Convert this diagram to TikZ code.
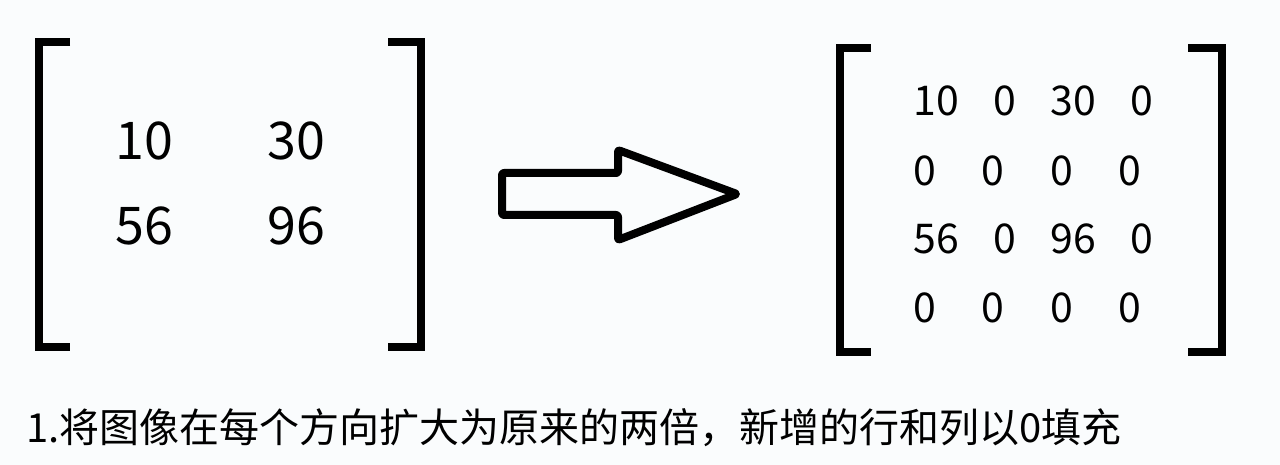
\documentclass[tikz,border=0pt]{standalone}
\usepackage{fontspec}
\setmainfont{Noto Sans CJK SC}
\usepackage{tikz}
\definecolor{paper}{RGB}{250,252,253}

\begin{document}
\begin{tikzpicture}[x=1pt, y=-1pt,
  brk/.style={line width=8pt, line join=miter},
  bigent/.style={font=\fontsize{52}{60}\selectfont, inner sep=0pt},
  smallent/.style={font=\fontsize{41}{48}\selectfont, inner sep=0pt},
  caption/.style={font=\fontsize{40}{46}\selectfont, inner sep=0pt, anchor=west}]
\fill [paper] (0,0) rectangle (1280,465);
\useasboundingbox (0,0) rectangle (1280,465);
% original 2x2
\coordinate (L1) at (39,42);
\coordinate (L2) at (39,347);
\coordinate (R1) at (421,42);
\coordinate (R2) at (421,347);
\draw [brk] (L1) ++(31,0) -- (L1) -- (L2) -- ++(31,0);
\draw [brk] (R1) ++(-33,0) -- (R1) -- (R2) -- ++(-33,0);
\node [bigent] (a11) at (144,141) {10};
\node [bigent] (a12) at (296,141) {30};
\node [bigent] (a21) at (144,226) {56};
\node [bigent] (a22) at (296,226) {96};
% the arrow
\draw [line width=8pt, line join=round, rounded corners=2pt]
  (502,173) -- (618,173) -- (618,150) -- (737,194) -- (618,240) -- (618,215) -- (502,215) -- cycle;
% enlarged 4x4
\coordinate (P1) at (840,48);
\coordinate (P2) at (840,352);
\coordinate (Q1) at (1222,48);
\coordinate (Q2) at (1222,352);
\draw [brk] (P1) ++(31,0) -- (P1) -- (P2) -- ++(31,0);
\draw [brk] (Q1) ++(-34,0) -- (Q1) -- (Q2) -- ++(-34,0);
\node [smallent] (b11) at (936,101) {10};
\node [smallent] (b12) at (1005,101) {0};
\node [smallent] (b13) at (1073,101) {30};
\node [smallent] (b14) at (1142,101) {0};
\node [smallent] (b21) at (925,171) {0};
\node [smallent] (b22) at (993,171) {0};
\node [smallent] (b23) at (1062,171) {0};
\node [smallent] (b24) at (1130,171) {0};
\node [smallent] (b31) at (936,239) {56};
\node [smallent] (b32) at (1005,239) {0};
\node [smallent] (b33) at (1073,239) {96};
\node [smallent] (b34) at (1142,239) {0};
\node [smallent] (b41) at (925,308) {0};
\node [smallent] (b42) at (993,308) {0};
\node [smallent] (b43) at (1062,308) {0};
\node [smallent] (b44) at (1130,308) {0};
% \node at (640,20) {step 1};
\node [caption] (cap) at (26,428) {1.将图像在每个方向扩大为原来的两倍，新增的行和列以0填充};
\end{tikzpicture}
\end{document}
